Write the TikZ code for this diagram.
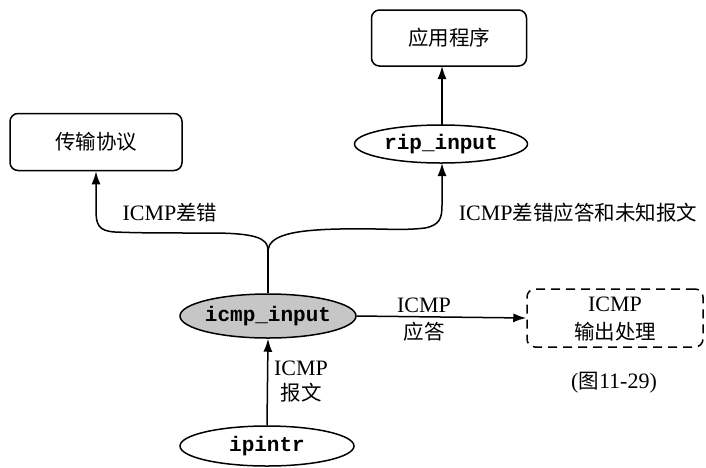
\documentclass[tikz,border=0pt]{standalone}
\usepackage{fontspec}
\setmainfont{Liberation Serif}
\setmonofont{Liberation Mono}
\newfontfamily\cjk{Noto Sans CJK SC}
\usetikzlibrary{arrows.meta,shapes.geometric}
\begin{document}
\begin{tikzpicture}[x=1pt,y=-1pt,
  line width=1.5pt,
  every node/.style={font=\fontsize{22}{24}\selectfont},
  boxstyle/.style={draw,rounded corners=8pt,minimum width=155pt,minimum height=56pt,inner sep=0pt},
  ell/.style={draw,ellipse,inner sep=0pt},
  code/.style={font=\fontsize{21}{24}\selectfont\ttfamily\bfseries},
  cj/.style={font=\fontsize{20.5}{24}\selectfont\cjk},
  arr/.style={-{Latex[length=13pt,width=9pt]}},
  lbl/.style={inner sep=0pt}
]
\useasboundingbox (0,0) rectangle (706,467);
% boxes
\node[boxstyle,cj] (app) at (449,38) {应用程序};
\node[boxstyle,cj,minimum width=172pt,minimum height=57pt] (trans) at (96,142) {传输协议};
\node[boxstyle,dashed,dash pattern=on 9pt off 6pt,minimum width=176pt,minimum height=58pt] (out) at (615,318) {};
\node[lbl] (outa) at (615,304) {ICMP};
\node[lbl,cj] (outb) at (615,332) {输出处理};
% ellipses
\node[ell,minimum width=173pt,minimum height=38pt] (rip) at (441,144) {};
\node[code,lbl] (ript) at (rip.center) {rip\_input};
\node[ell,fill=gray!45,minimum width=176pt,minimum height=44pt] (icmp) at (268,316) {};
\node[code,lbl] (icmpt) at (icmp.center) {icmp\_input};
\node[ell,minimum width=174pt,minimum height=40pt] (ipintr) at (267,446) {};
\node[code,lbl] (ipintrt) at (ipintr.center) {ipintr};
% connectors
\coordinate (fork) at (268,250);
\draw (icmp.north) -- (fork);
\draw[arr] (fork) .. controls (268,238) and (255,233) .. (210,233)
  .. controls (160,233) and (140,233) .. (115,232)
  .. controls (98,231) and (96,224) .. (96,210) -- (trans.south);
\draw[arr] (fork) .. controls (270,236) and (290,230) .. (340,229)
  .. controls (380,228) and (400,231) .. (425,228)
  .. controls (440,225) and (442,218) .. (442,205) -- (442,163);
\draw[arr] (442,125) -- (442,66);
\draw[arr] (icmp.east) -- (out.west);
\draw[arr] (ipintr.north) -- (icmp.south);
% labels
\node[lbl] (l1) at (170,213) {ICMP{\fontsize{20.5}{24}\selectfont\cjk 差错}};
\node[lbl,anchor=west] (l2) at (458,213) {ICMP{\fontsize{20.5}{24}\selectfont\cjk 差错应答和未知报文}};
\node[lbl] (l3) at (424,305) {ICMP};
\node[lbl,cj] (l4) at (424,332) {应答};
\node[lbl] (l5) at (301,368) {ICMP};
\node[lbl,cj] (l6) at (301,393) {报文};
\node[lbl] (l7) at (614,383) {({\fontsize{20.5}{24}\selectfont\cjk 图}11-29)};
\end{tikzpicture}
\end{document}
